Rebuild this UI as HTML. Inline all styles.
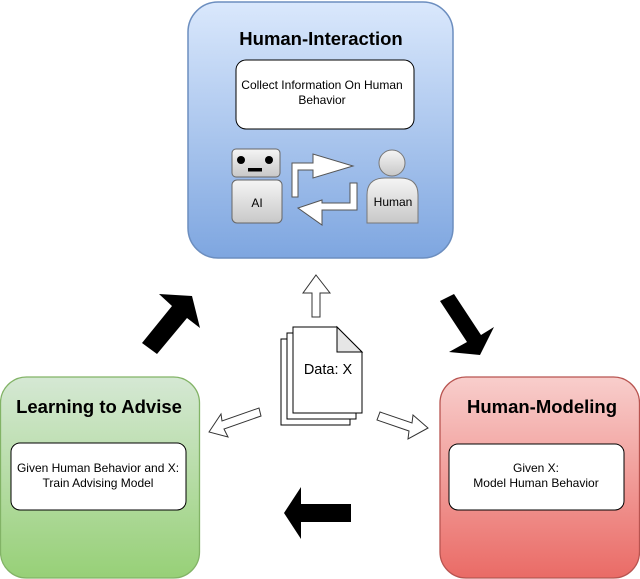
<!DOCTYPE html>
<html><head><meta charset="utf-8"><style>
html,body{margin:0;padding:0;background:#fff;}
svg{display:block;font-family:"Liberation Sans",Arial,sans-serif;}
</style></head><body>
<svg width="640" height="579" viewBox="0 0 640 579" xmlns="http://www.w3.org/2000/svg">
<defs>
<linearGradient id="gb" x1="0" y1="0" x2="0" y2="1"><stop offset="0" stop-color="#dae8fc"/><stop offset="1" stop-color="#7ea6e0"/></linearGradient>
<linearGradient id="gg" x1="0" y1="0" x2="0" y2="1"><stop offset="0" stop-color="#d5e8d4"/><stop offset="1" stop-color="#97d077"/></linearGradient>
<linearGradient id="gr" x1="0" y1="0" x2="0" y2="1"><stop offset="0" stop-color="#f8cecc"/><stop offset="1" stop-color="#ea6b66"/></linearGradient>
<linearGradient id="gy" x1="0" y1="0" x2="0" y2="1"><stop offset="0" stop-color="#f5f5f5"/><stop offset="1" stop-color="#c8c8c8"/></linearGradient>
</defs>
<rect x="188" y="2" width="265" height="256" rx="30" fill="url(#gb)" stroke="#6c8ebf" stroke-width="1.5"/>
<text x="321" y="45" text-anchor="middle" font-size="18.5" font-weight="bold">Human-Interaction</text>
<rect x="236" y="60" width="178" height="69" rx="10" fill="#fff" stroke="#000"/>
<text x="322" y="89" text-anchor="middle" font-size="12">Collect Information On Human</text>
<text x="322" y="104" text-anchor="middle" font-size="12">Behavior</text>
<rect x="232" y="149" width="48" height="28" rx="4" fill="url(#gy)" stroke="#666"/>
<circle cx="241" cy="160" r="4" fill="#000"/><circle cx="269" cy="160" r="4" fill="#000"/>
<rect x="248" y="168" width="14" height="3.5" fill="#000"/>
<rect x="232" y="180" width="50" height="43" rx="5" fill="url(#gy)" stroke="#666"/>
<text x="257" y="207" text-anchor="middle" font-size="12">AI</text>
<polygon points="292,197 298,197 298,170 313,170 313,178 353,166 313,154 313,163 292,163" fill="#fff" stroke="#555"/>
<polygon points="357,183 350,183 350,203 322,203 322,200 298,208 322,225 322,210 357,210" fill="#fff" stroke="#555"/>
<circle cx="392" cy="163" r="13" fill="url(#gy)" stroke="#777"/>
<path d="M367,223 L367,195 Q367,178 385,178 L400,178 Q418,178 418,195 L418,223 Z" fill="url(#gy)" stroke="#777"/>
<text x="393" y="206" text-anchor="middle" font-size="12">Human</text>
<rect x="0.5" y="377" width="199" height="201" rx="26" fill="url(#gg)" stroke="#82b366" stroke-width="1.3"/>
<text x="99" y="413" text-anchor="middle" font-size="18.5" font-weight="bold">Learning to Advise</text>
<rect x="11" y="443" width="175" height="67" rx="9" fill="#fff" stroke="#000"/>
<text x="98" y="472" text-anchor="middle" font-size="12">Given Human Behavior and X:</text>
<text x="98" y="487" text-anchor="middle" font-size="12">Train Advising Model</text>
<rect x="440" y="377" width="199.5" height="201" rx="26" fill="url(#gr)" stroke="#b85450" stroke-width="1.3"/>
<text x="542" y="413" text-anchor="middle" font-size="18.5" font-weight="bold">Human-Modeling</text>
<rect x="449" y="444" width="175" height="66" rx="9" fill="#fff" stroke="#000"/>
<text x="536" y="472" text-anchor="middle" font-size="12">Given X:</text>
<text x="536" y="487" text-anchor="middle" font-size="12">Model Human Behavior</text>
<polygon points="192,296 200,328 187,318 157,354 142,343 172,306 159,294" fill="#000"/>
<polygon points="480,355 449,352 467,342 440,301 454,294 481,335 494,327" fill="#000"/>
<polygon points="284,513 301,487 301,504 351,504 351,522 301,522 301,539" fill="#000"/>
<polygon points="316,275 330,293 320,293 320,317 312,317 312,293 303,293" fill="#fff" stroke="#333"/>
<polygon points="209,432 221,414 222,421 259,408 261,416 224,429 228,437" fill="#fff" stroke="#333"/>
<polygon points="428,428 408,439 409,431 377,420 380,412 412,423 413,415" fill="#fff" stroke="#333"/>
<polygon points="281,339 325,339 350,364 350,425 281,425" fill="#fff" stroke="#000"/>
<polygon points="287,333 331,333 356,358 356,419 287,419" fill="#fff" stroke="#000"/>
<polygon points="293,327 337,327 362,352 362,413 293,413" fill="#fff" stroke="#000"/>
<polygon points="337,327 337,352 362,352" fill="#e6e6e6" stroke="#000"/>
<text x="328" y="374" text-anchor="middle" font-size="14.5">Data: X</text>
</svg>
</body></html>
